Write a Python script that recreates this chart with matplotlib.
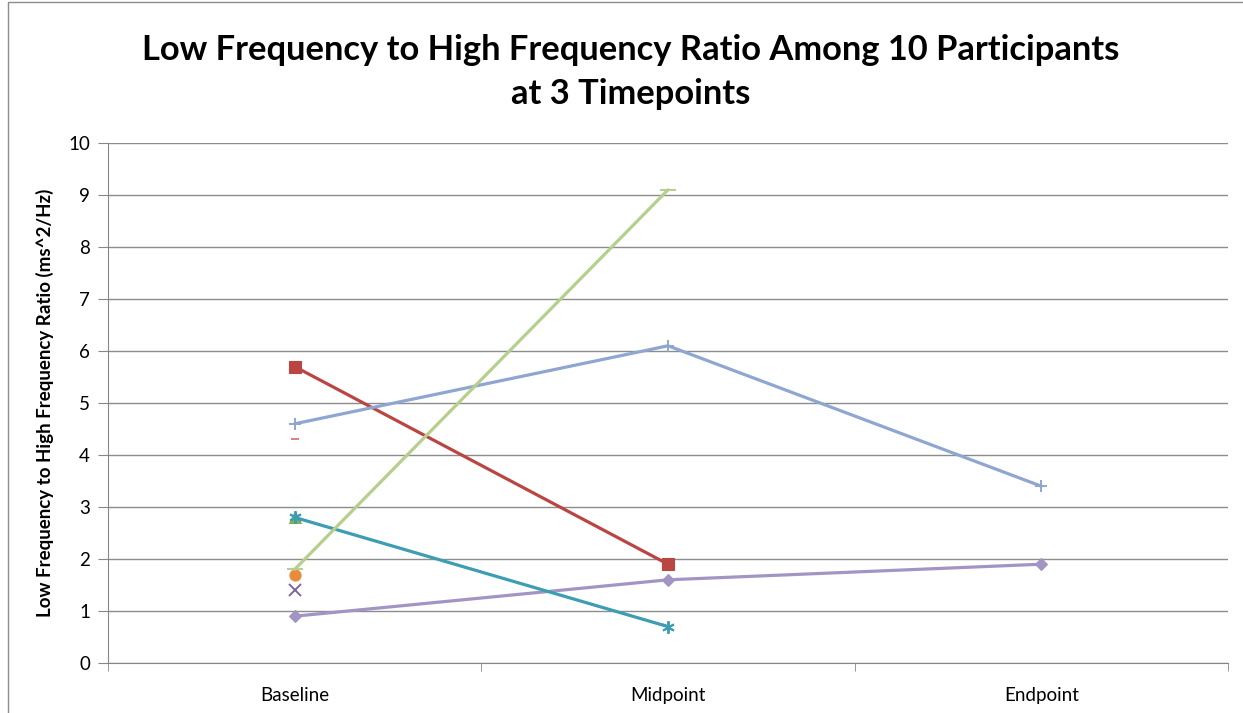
import matplotlib.pyplot as plt
from matplotlib.patches import Rectangle
import numpy as np

nan = np.nan

timepoints = ['Baseline', 'Midpoint', 'Endpoint']

# LF/HF ratio per participant (nan = no reading at that timepoint)
p1 = [0.9, 1.6, 1.9]
p2 = [5.7, 1.9, nan]
p3 = [2.8, nan, nan]
p4 = [1.4, nan, nan]
p5 = [2.8, 0.7, nan]
p6 = [1.7, nan, nan]
p7 = [4.6, 6.1, 3.4]
p8 = [4.3, nan, nan]
p9 = [1.8, 9.1, nan]
p10 = [nan, nan, nan]

participants = [p1, p2, p3, p4, p5, p6, p7, p8, p9, p10]

# excel-ish styles: (colour, marker, markersize)
styles = [
    ('#a395c3', 'D', 6),
    ('#bb4542', 's', 8.5),
    ('#86ad55', '^', 8),
    ('#7e659c', 'x', 8),
    ('#3c9db3', (6, 2, 0), 9),
    ('#eb8b3a', 'o', 8),
    ('#8fa6d0', '+', 9),
    ('#d9807e', '_', 6),
    ('#b6cf8c', '_', 11),
    ('#7b98c6', 'o', 6),
]

plt.rcParams['font.family'] = ['Lato', 'DejaVu Sans']

fig = plt.figure(figsize=(12.43, 7.13), dpi=100)
ax = fig.add_axes([108/1243, 1 - 663/713, 1120/1243, 520/713])

x = np.arange(len(timepoints))
for vals, (col, mk, ms) in zip(participants, styles):
    ax.plot(x, vals, color=col, lw=2.3, marker=mk, markersize=ms,
            markeredgewidth=1.4 if mk in ('x', '+', '_', (6, 2, 0)) else 0.8,
            markeredgecolor=col, markerfacecolor=col, solid_capstyle='round')

ax.set_xlim(-0.5, 2.5)
ax.set_ylim(0, 10)
ax.set_yticks(range(0, 11))
ax.set_xticks(x)
ax.set_xticklabels(timepoints)
ax.set_xticks([-0.5, 0.5, 1.5, 2.5], minor=True)
ax.tick_params(axis='x', which='major', length=0, pad=17, labelsize=13.5)
ax.tick_params(axis='x', which='minor', length=6, color='#868686', direction='out')
ax.tick_params(axis='y', length=7, color='#868686', labelsize=13.5, pad=6)

ax.yaxis.grid(True, color='#8c8c8c', lw=1)
ax.set_axisbelow(True)
for s in ['top', 'right']:
    ax.spines[s].set_visible(False)
for s in ['left', 'bottom']:
    ax.spines[s].set_color('#868686')

ax.set_ylabel('Low Frequency to High Frequency Ratio (ms^2/Hz)',
              fontsize=13.5, fontweight='bold', labelpad=10)

fig.text(0.5 + 9/1243, 1 - 72/713,
         'Low Frequency to High Frequency Ratio Among 10 Participants\nat 3 Timepoints',
         ha='center', va='center', fontsize=24.8, fontweight='bold', linespacing=1.45)

# chart area border
fig.patches.append(Rectangle((8/1243, -0.05), 1.2, 1.05 - 2/713,
                             transform=fig.transFigure, fill=False,
                             edgecolor='#8c8c8c', lw=1))

plt.savefig('out.png')
